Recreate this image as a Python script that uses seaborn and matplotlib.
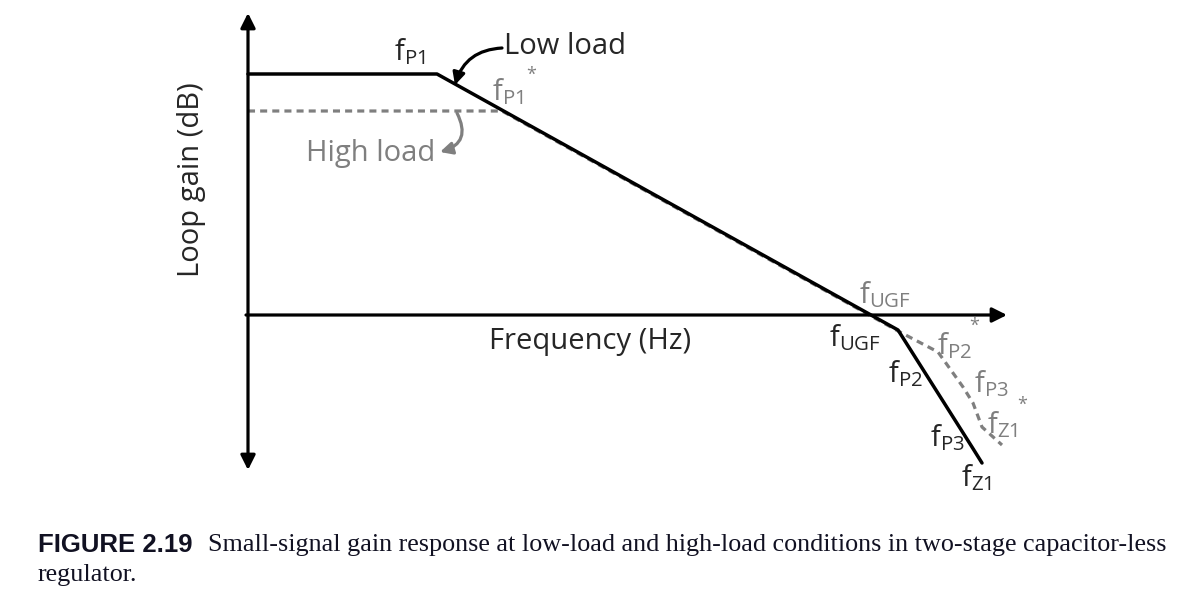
import matplotlib
matplotlib.use('Agg')
import matplotlib.pyplot as plt
import seaborn as sns
import pandas as pd

sns.set_style('white')
plt.rcParams['font.family'] = ['Open Sans', 'DejaVu Sans']
plt.rcParams['mathtext.default'] = 'regular'

# asymptotic loop gain curves (pixel units, y downward)
low_x = [248, 437, 898, 972, 982]
low_y = [74, 74, 330, 447, 463]
high_x = [248, 502, 898, 938, 963, 973, 982, 1002]
high_y = [111, 111, 331, 352, 387, 403, 427, 445]

low = pd.DataFrame({'x': low_x, 'y': low_y})
high = pd.DataFrame({'x': high_x, 'y': high_y})

fig = plt.figure(figsize=(11.86, 5.90), dpi=100)
ax = fig.add_axes([0, 0, 1, 1])
ax.set_xlim(0, 1186)
ax.set_ylim(590, 0)
ax.axis('off')

sns.lineplot(data=high, x='x', y='y', sort=False, color='#7f7f7f', lw=2.3,
             linestyle=(0, (2.2, 1.6)), ax=ax, zorder=2)
sns.lineplot(data=low, x='x', y='y', sort=False, color='black', lw=2.5,
             ax=ax, zorder=3)

# axes arrows
ax.annotate('', xy=(248, 13), xytext=(248, 470),
            arrowprops=dict(arrowstyle='<|-|>', color='black', lw=2.3,
                            mutation_scale=22, shrinkA=0, shrinkB=0))
ax.annotate('', xy=(1007, 315), xytext=(246, 315),
            arrowprops=dict(arrowstyle='-|>', color='black', lw=2.3,
                            mutation_scale=22, shrinkA=0, shrinkB=0))

fs = 21
grey = '#7f7f7f'
ax.text(192, 180, 'Loop gain (dB)', rotation=90, fontsize=fs, ha='center', va='center')
ax.text(590, 342, 'Frequency (Hz)', fontsize=fs, ha='center', va='center')

ax.text(565, 46, 'Low load', fontsize=fs, ha='center', va='center')
ax.annotate('', xy=(455, 85), xytext=(502, 48),
            arrowprops=dict(arrowstyle='-|>', color='black', lw=2.3,
                            mutation_scale=18, shrinkA=0, shrinkB=0,
                            connectionstyle='arc3,rad=0.35'))
ax.text(371, 153, 'High load', fontsize=fs, ha='center', va='center', color=grey)
ax.annotate('', xy=(440, 152), xytext=(457, 113),
            arrowprops=dict(arrowstyle='-|>', color=grey, lw=2.3,
                            mutation_scale=18, shrinkA=0, shrinkB=0,
                            connectionstyle='arc3,rad=-0.6'))

# black labels
ax.text(410, 52, '$f_{P1}$', fontsize=fs, ha='center', va='center')
ax.text(855, 338, '$f_{UGF}$', fontsize=fs, ha='center', va='center')
ax.text(905, 374, '$f_{P2}$', fontsize=fs, ha='center', va='center')
ax.text(947, 438, '$f_{P3}$', fontsize=fs, ha='center', va='center')
ax.text(976, 478, '$f_{Z1}$', fontsize=fs, ha='center', va='center')

# grey labels
ax.text(508, 92, '$f_{P1}$', fontsize=fs, ha='center', va='center', color=grey)
ax.text(531, 75, '*', fontsize=13, ha='center', va='center', color=grey)
ax.text(885, 295, '$f_{UGF}$', fontsize=fs, ha='center', va='center', color=grey)
ax.text(954, 346, '$f_{P2}$', fontsize=fs, ha='center', va='center', color=grey)
ax.text(974, 326, '*', fontsize=13, ha='center', va='center', color=grey)
ax.text(991, 384, '$f_{P3}$', fontsize=fs, ha='center', va='center', color=grey)
ax.text(1002, 425, '$f_{Z1}$', fontsize=fs, ha='center', va='center', color=grey)
ax.text(1022, 405, '*', fontsize=13, ha='center', va='center', color=grey)

# caption
cap = '#111122'
ax.text(38, 545, 'FIGURE 2.19', fontsize=18.5, fontweight='bold', ha='left', va='center',
        family='Liberation Sans', color=cap)
ax.text(208, 545, 'Small-signal gain response at low-load and high-load conditions in two-stage capacitor-less',
        fontsize=18.8, ha='left', va='center', family='Liberation Serif', color=cap)
ax.text(38, 575, 'regulator.', fontsize=18.8, ha='left', va='center', family='Liberation Serif', color=cap)

fig.savefig('out.png', dpi=100)
